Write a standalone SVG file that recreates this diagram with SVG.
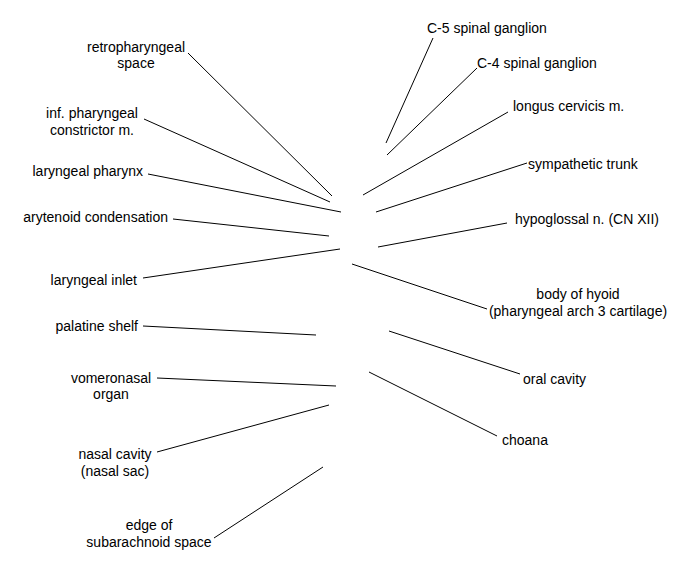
<svg xmlns="http://www.w3.org/2000/svg" width="675" height="580" viewBox="0 0 675 580">
<style>
text{font-family:"Liberation Sans",Arial,sans-serif;font-size:14px;fill:#000}
.m{text-anchor:middle}
.e{text-anchor:end}
.c line{stroke:#000;stroke-width:1;fill:none}
</style>
<rect width="675" height="580" fill="#fff"/>
<g class="c" id="connectors">
<line x1="188" y1="53" x2="332" y2="196"/>
<line x1="144" y1="119" x2="330" y2="202"/>
<line x1="148" y1="174" x2="341" y2="212"/>
<line x1="173" y1="219" x2="329" y2="236"/>
<line x1="143" y1="278" x2="340" y2="249"/>
<line x1="433" y1="38" x2="386" y2="143"/>
<line x1="477" y1="68" x2="387" y2="155"/>
<line x1="508" y1="112" x2="363" y2="195"/>
<line x1="527" y1="163" x2="376" y2="212"/>
<line x1="507" y1="223" x2="378" y2="247"/>
<line x1="352" y1="264" x2="487" y2="309"/>
<line x1="143" y1="326" x2="316" y2="335"/>
<line x1="157" y1="378" x2="336" y2="386"/>
<line x1="157" y1="452" x2="329" y2="405"/>
<line x1="214" y1="538" x2="323" y2="467"/>
<line x1="389" y1="331" x2="520" y2="374"/>
<line x1="369" y1="372" x2="497" y2="436"/>
</g>
<g id="retropharyngeal-space"><text class="m" x="136" y="52">retropharyngeal</text><text class="m" x="136" y="68">space</text></g>
<g id="inf-pharyngeal-constrictor"><text class="m" x="92" y="118">inf. pharyngeal</text><text class="m" x="92" y="135">constrictor m.</text></g>
<g id="laryngeal-pharynx"><text class="e" x="143" y="176">laryngeal pharynx</text></g>
<g id="arytenoid-condensation"><text class="e" x="168" y="222">arytenoid condensation</text></g>
<g id="laryngeal-inlet"><text class="e" x="137" y="285">laryngeal inlet</text></g>
<g id="palatine-shelf"><text class="e" x="138" y="331">palatine shelf</text></g>
<g id="vomeronasal-organ"><text class="m" x="111" y="383">vomeronasal</text><text class="m" x="111" y="399">organ</text></g>
<g id="nasal-cavity"><text class="m" x="115" y="459">nasal cavity</text><text class="m" x="115" y="476">(nasal sac)</text></g>
<g id="edge-subarachnoid"><text class="m" x="149" y="530">edge of</text><text class="m" x="149" y="547">subarachnoid space</text></g>
<g id="c5-ganglion"><text x="427" y="33">C-5 spinal ganglion</text></g>
<g id="c4-ganglion"><text x="477" y="68">C-4 spinal ganglion</text></g>
<g id="longus-cervicis"><text x="513" y="111">longus cervicis m.</text></g>
<g id="sympathetic-trunk"><text x="528" y="169">sympathetic trunk</text></g>
<g id="hypoglossal"><text x="515" y="224">hypoglossal n. (CN XII)</text></g>
<g id="body-of-hyoid"><text class="m" x="578" y="299">body of hyoid</text><text class="m" x="578" y="316">(pharyngeal arch 3 cartilage)</text></g>
<g id="oral-cavity"><text x="523" y="384">oral cavity</text></g>
<g id="choana"><text x="502" y="445">choana</text></g>
</svg>
